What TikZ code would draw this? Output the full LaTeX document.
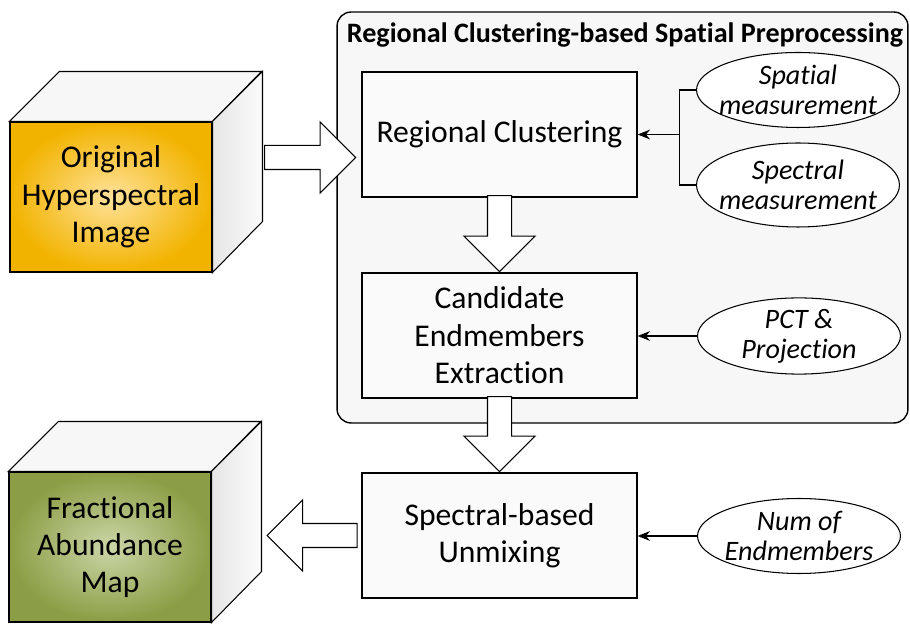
\documentclass[tikz,border=0pt]{standalone}
\usepackage{fontspec}
\setmainfont{Carlito}[Ligatures=NoCommon]
\usetikzlibrary{calc,arrows.meta,shapes.geometric,shapes.arrows}

\definecolor{goldedge}{HTML}{F2B300}
\definecolor{goldmid}{HTML}{FFE29A}
\definecolor{oliveedge}{HTML}{8B9E45}
\definecolor{olivemid}{HTML}{CBD6A8}
\newcommand{\olbl}[1]{\makebox[0pt]{#1}}

\begin{document}
\begin{tikzpicture}[x=0.02cm,y=-0.02cm,
  procbox/.style={draw, thick, fill=gray!4, minimum width=5.5cm, minimum height=2.5cm,
    align=center, font=\fontsize{18}{21.3}\selectfont},
  oval/.style={ellipse, draw, semithick, fill=white, minimum width=4.06cm, minimum height=1.5cm,
    inner sep=0pt, align=center, font=\itshape\fontsize{16}{17}\selectfont},
  cubefront/.style={draw, semithick, minimum width=4.04cm, minimum height=3cm,
    align=center, font=\fontsize{18}{21.3}\selectfont},
  cubeside/.style={draw, semithick},
  blockarrow/.style={single arrow, draw, semithick, fill=white, inner sep=0.23cm,
    single arrow head extend=0.47cm, single arrow tip angle=90, anchor=tip},
  feed/.style={semithick, -{Stealth[length=7pt,width=5.5pt]}}]
\useasboundingbox (0,0) rectangle (910,624);

% data cubes
\node[cubefront, shading=radial, inner color=goldmid, outer color=goldedge] (orig) at (111,197)
  {Original\\Hyperspectral\\Image};
\draw[cubeside, fill=gray!6] (orig.north west) -- ++(50,-50) -- ++(202,0) -- (orig.north east) -- cycle;
\draw[cubeside, left color=gray!20, right color=gray!3] (orig.north east) -- ++(50,-50) -- ++(0,150)
  -- (orig.south east) -- cycle;

\node[cubefront, shading=radial, inner color=olivemid, outer color=oliveedge] (abund) at (110,547)
  {Fractional\\Abundance\\Map};
\draw[cubeside, fill=gray!6] (abund.north west) -- ++(50,-50) -- ++(202,0) -- (abund.north east) -- cycle;
\draw[cubeside, left color=gray!20, right color=gray!3] (abund.north east) -- ++(50,-50) -- ++(0,150)
  -- (abund.south east) -- cycle;

% preprocessing frame
\node[draw, thick, rounded corners=0.28cm, fill=gray!6, minimum width=11.42cm, minimum height=8.22cm]
  (pre) at (622.5,217.5) {};
\node[anchor=base, font=\bfseries\fontsize{16}{18}\selectfont] (pretitle) at (625,43)
  {Regional Clustering-based Spatial Preprocessing};

% processing steps
\node[procbox] (reg) at (499.5,134.5) {Regional Clustering};
\node[procbox] (cand) at (499.5,335.5) {Candidate\\Endmembers\\Extraction};
\node[procbox] (unmix) at (499.5,535.5) {Spectral-based\\Unmixing};

% inputs
\node[oval] (spat) at (798,90) {\olbl{Spatial}\\\olbl{measurement}};
\node[oval, minimum height=1.68cm] (spec) at (798,185) {\olbl{Spectral}\\\olbl{measurement}};
\node[oval] (pct) at (799,336) {\olbl{PCT \&}\\\olbl{Projection}};
\node[oval] (num) at (799,536) {\olbl{Num of}\\\olbl{Endmembers}};

\coordinate (fork) at ($(reg.east)+(42,0)$);
\draw[semithick] (spat.west) -| (fork);
\draw[semithick] (spec.west) -| (fork);
\draw[feed] (fork) -- (reg.east);
\draw[feed] (pct.west) -- (pct.west -| cand.east);
\draw[feed] (num.west) -- (num.west -| unmix.east);

% block arrows
\node[blockarrow, minimum height=1.82cm] (inarrow) at ($(reg.west)+(-5,23)$) {};
\node[blockarrow, minimum height=1.52cm, shape border rotate=270] (down1) at (cand.north) {};
\node[blockarrow, minimum height=1.5cm, shape border rotate=270] (down2) at (unmix.north) {};
\node[blockarrow, minimum height=1.8cm, shape border rotate=180] (outarrow)
  at ($(unmix.west)+(-95,0)$) {};
\end{tikzpicture}
\end{document}
